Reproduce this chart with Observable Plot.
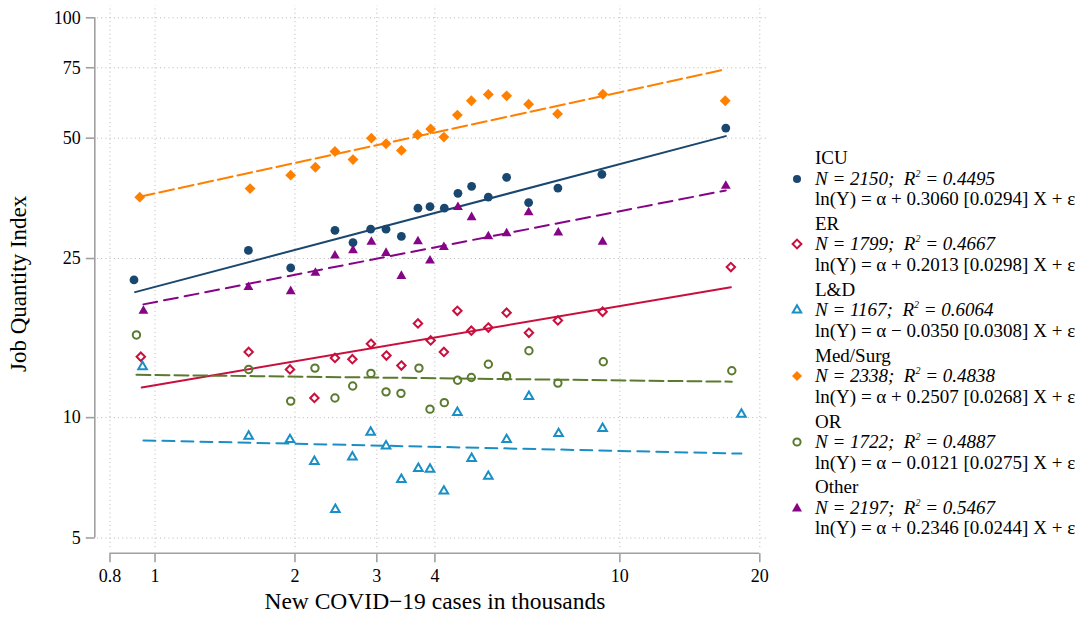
<!DOCTYPE html>
<html><head><meta charset="utf-8">
<script src="https://cdn.jsdelivr.net/npm/d3@7"></script>
<script src="https://cdn.jsdelivr.net/npm/@observablehq/plot@0.6"></script>
<style>
body{margin:0;background:#fff;font-family:"Liberation Serif","Times New Roman",serif;}
#wrap{position:relative;width:1081px;height:620px;}
#legend{position:absolute;left:815px;top:148px;font-size:19px;line-height:20.5px;color:#000;white-space:nowrap;}
.entry{position:relative;margin-bottom:4.4px;}
.entry div{height:20.5px;}
.sym{position:absolute;left:-28px;top:20.5px;width:20px;height:20px;}
sup{font-size:10px;vertical-align:8px;line-height:0;}
</style></head><body><div id="wrap"></div>
<script>
// ---- data ----
const groups = ["ICU","ER","L&D","Med/Surg","OR","Other"];
const colors = ["#1a476f","#c90f3d","#1a8fc5","#ff8000","#5a7a2e","#860486"];
const nObs  = [2150, 1799, 1167, 2338, 1722, 2197];
const r2    = ["0.4495","0.4667","0.6064","0.4838","0.4887","0.5467"];
const coef  = ["+ 0.3060","+ 0.2013","\u2212 0.0350","+ 0.2507","\u2212 0.0121","+ 0.2346"];
const se    = ["0.0294","0.0298","0.0308","0.0268","0.0275","0.0244"];

const xICU = [0.901,1.588,1.958,2.438,2.666,2.910,3.140,3.388,3.678,3.904,4.191,4.484,4.798,5.212,5.706,6.364,7.356,9.148,16.90];
const yICU = [22.1,26.2,23.7,29.4,27.4,29.6,29.6,28.4,33.4,33.7,33.4,36.4,37.9,35.6,39.9,34.5,37.5,40.6,53.0];
const xER  = [0.932,1.590,1.951,2.202,2.438,2.658,2.914,3.146,3.388,3.678,3.917,4.182,4.471,4.791,5.212,5.706,6.373,7.356,9.180,17.33];
const yER  = [14.2,14.6,13.2,11.2,14.1,14.0,15.3,14.3,13.5,17.2,15.6,14.6,18.5,16.5,16.8,18.3,16.3,17.5,18.4,23.8];
const xLD  = [0.940,1.590,1.951,2.202,2.443,2.658,2.910,3.140,3.388,3.685,3.904,4.182,4.471,4.798,5.212,5.706,6.373,7.382,9.180,18.26];
const yLD  = [13.4,8.98,8.81,7.77,5.89,7.97,9.19,8.49,7.00,7.46,7.43,6.55,10.3,7.90,7.13,8.81,11.3,9.12,9.39,10.2];
const xMS  = [0.927,1.601,1.958,2.213,2.438,2.666,2.920,3.140,3.388,3.672,3.917,4.182,4.471,4.791,5.212,5.706,6.364,7.345,9.193,16.85];
const yMS  = [35.6,37.4,40.4,42.3,46.3,44.2,50.0,48.4,46.6,51.0,52.7,50.3,57.1,62.0,64.3,63.8,60.8,57.5,64.4,62.0];
const xOR  = [0.912,1.590,1.958,2.208,2.438,2.662,2.914,3.140,3.381,3.696,3.904,4.191,4.477,4.791,5.212,5.706,6.373,7.356,9.212,17.41];
const yOR  = [16.1,13.2,11.0,13.3,11.2,12.0,12.9,11.6,11.5,13.3,10.5,10.9,12.4,12.6,13.6,12.7,14.7,12.2,13.8,13.1];
const xOth = [0.944,1.588,1.958,2.213,2.438,2.666,2.920,3.140,3.388,3.678,3.904,4.182,4.484,4.798,5.212,5.706,6.364,7.370,9.180,16.90];
const yOth = [18.5,21.2,20.7,23.0,25.4,26.2,27.5,25.8,22.6,27.6,24.7,26.7,33.6,31.7,28.4,28.9,32.6,29.0,27.5,38.0];

// fitted lines: start / end
const fitX0 = [0.906,0.936,0.944,0.927,0.912,0.944];
const fitX1 = [16.90,17.33,18.26,16.85,17.41,16.90];
const fitY0 = [20.6,11.9,8.77,35.7,12.8,19.2];
const fitY1 = [50.6,21.2,8.13,74.3,12.3,37.0];

const xTicks = [0.8,1,2,3,4,10,20];
const yTicks = [5,10,25,50,75,100];

// ---- styles ----
const dash = [null,null,"12,7","15,5","14,5","14,7"];
const symStyle = [
  {symbol:"circle", r:4.4, fill:colors[0], stroke:"none"},
  {symbol:"diamond2", r:3.8, fill:"none", stroke:colors[1], strokeWidth:2},
  {symbol:"triangle2", r:4.1, fill:"none", stroke:colors[2], strokeWidth:2},
  {symbol:"diamond2", r:4.9, fill:colors[3], stroke:"none"},
  {symbol:"circle", r:3.7, fill:"none", stroke:colors[4], strokeWidth:2},
  {symbol:"triangle2", r:4.7, fill:colors[5], stroke:"none"}
];
const xs = [xICU,xER,xLD,xMS,xOR,xOth];
const ys = [yICU,yER,yLD,yMS,yOR,yOth];

const lineData = groups.map((g,i)=>[{g,x:fitX0[i],y:fitY0[i]},{g,x:fitX1[i],y:fitY1[i]}]);
const pts = groups.map((g,i)=>xs[i].map((x,j)=>({g,x,y:ys[i][j]})));

const gridCol = "#b8b8b8";
const axisCol = "#a0a0a0";
const off = 15.2, tick = 9;
const vTick = {draw(ctx){ctx.moveTo(0,0);ctx.lineTo(0,tick);}};
const hTick = {draw(ctx){ctx.moveTo(0,0);ctx.lineTo(-tick,0);}};
const serif = '"Liberation Serif","Times New Roman",serif';

const marks = [
  Plot.ruleX(xTicks,{x:d=>d,y1:4.73,y2:107.3,stroke:gridCol,strokeDasharray:"1,3.2",strokeWidth:1}),
  Plot.ruleY(yTicks,{y:d=>d,x1:0.752,x2:20.67,stroke:gridCol,strokeDasharray:"1,3.2",strokeWidth:1}),
  // axis lines
  Plot.ruleX([0.8],{y1:5,y2:100,dx:-off,stroke:axisCol,strokeWidth:1.6}),
  Plot.ruleY([5],{x1:0.8,x2:20,dy:off,stroke:axisCol,strokeWidth:1.6}),
  // ticks
  Plot.dot(yTicks,{x:0.8,y:d=>d,dx:-off,symbol:hTick,stroke:axisCol,strokeWidth:1.6,fill:"none"}),
  Plot.dot(xTicks,{x:d=>d,y:5,dy:off,symbol:vTick,stroke:axisCol,strokeWidth:1.6,fill:"none"}),
  // tick labels
  Plot.text(yTicks,{x:0.8,y:d=>d,text:d=>String(d),dx:-(off+tick+5),textAnchor:"end",fontSize:18,fill:"#000"}),
  Plot.text(xTicks,{x:d=>d,y:5,text:d=>String(d),dy:off+tick+14,fontSize:18,fill:"#000"}),
  // fits and points
  ...lineData.map((d,i)=>Plot.line(d,{x:"x",y:"y",stroke:colors[i],strokeWidth:2,strokeDasharray:dash[i]})),
  ...pts.map((d,i)=>Plot.dot(d,{x:"x",y:"y",...symStyle[i]})),
  // axis titles
  Plot.text(["Job Quantity Index"],{frameAnchor:"left",textAnchor:"middle",rotate:-90,dx:-91.5,dy:6,fontSize:23,fill:"#000"}),
  Plot.text(["New COVID\u221219 cases in thousands"],{frameAnchor:"bottom",textAnchor:"middle",dy:71,fontSize:23.5,fill:"#000"})
];

const chart = Plot.plot({
  width:1081, height:620,
  marginLeft:109.5, marginRight:321.7, marginTop:17.3, marginBottom:82.5,
  x:{type:"log", domain:[0.8,20], axis:null},
  y:{type:"log", domain:[5,100], axis:null},
  style:{fontFamily:serif, background:"#fff", color:"#000"},
  marks
});
const wrap = document.getElementById("wrap");
wrap.appendChild(chart);

// ---- legend ----
function symSvg(i){
  const c = colors[i];
  let shape;
  if (i===0) shape = `<circle cx="10" cy="10" r="4" fill="${c}"/>`;
  else if (i===1) shape = `<path d="M10,5.6L14.4,10L10,14.4L5.6,10Z" fill="none" stroke="${c}" stroke-width="2"/>`;
  else if (i===2) shape = `<path d="M10,5.2L14.2,12.6L5.8,12.6Z" fill="none" stroke="${c}" stroke-width="2"/>`;
  else if (i===3) shape = `<path d="M10,5L15,10L10,15L5,10Z" fill="${c}"/>`;
  else if (i===4) shape = `<circle cx="10" cy="10" r="3.6" fill="none" stroke="${c}" stroke-width="2"/>`;
  else shape = `<path d="M10,4.8L15,13.4L5,13.4Z" fill="${c}"/>`;
  return `<svg class="sym" viewBox="0 0 20 20">${shape}</svg>`;
}
const leg = document.createElement("div");
leg.id = "legend";
leg.innerHTML = groups.map((g,i)=>`<div class="entry">${symSvg(i)}<div>${g.replace("&","&amp;")}</div><div><i>N = ${nObs[i]};&nbsp; R<sup>2</sup> = ${r2[i]}</i></div><div>ln(Y) = \u03b1 ${coef[i]} [${se[i]}] X + \u03b5</div></div>`).join("");
wrap.appendChild(leg);
</script>
</body></html>
